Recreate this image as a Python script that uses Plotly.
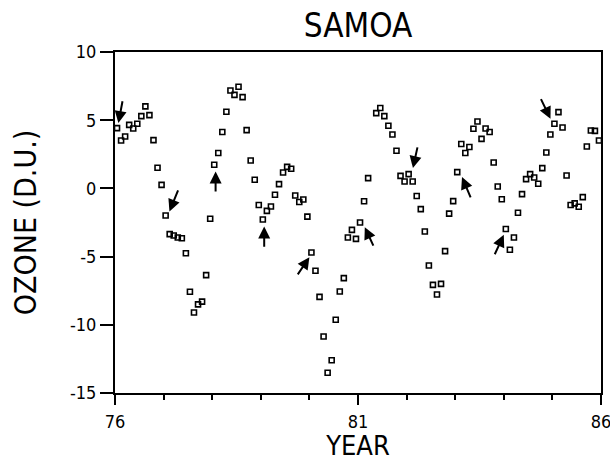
import plotly.graph_objects as go

# Monthly ozone deviations, Samoa, 1976-1985 (k = month index from Jan 1976)
start_year = 76
ozone = [
    4.42, 3.51, 3.81, 4.66, 4.39, 4.74, 5.30, 6.01, 5.37, 3.54, 1.51, 0.26,
    -1.99, -3.35, -3.45, -3.60, -3.65, -4.75, -7.58, -9.10, -8.50, -8.30, -6.36, -2.23,
    1.73, 2.59, 4.13, 5.62, 7.18, 6.86, 7.45, 6.69, 4.27, 2.05, 0.63, -1.22,
    -2.28, -1.65, -1.33, -0.47, 0.31, 1.17, 1.58, 1.44, -0.52, -1.00, -0.81, -2.07,
    -4.70, -6.04, -7.95, -10.86, -13.52, -12.60, -9.63, -7.56, -6.58, -3.60, -3.04, -3.70,
    -2.50, -0.94, 0.75, None, 5.52, 5.89, 5.30, 4.59, 3.95, 2.76, 0.92, 0.51,
    1.05, 0.51, -0.56, -1.52, -3.16, -5.65, -7.07, -7.78, -7.00, -4.60, -1.85, -0.93,
    1.19, 3.25, 2.59, 3.03, 4.37, 4.90, 3.63, 4.39, 4.13, 1.90, 0.14, -0.80,
    -2.98, -4.50, -3.60, -1.78, -0.42, 0.68, 1.05, 0.80, 0.34, 1.49, 2.63, 3.95,
    4.74, 5.59, 4.46, 0.95, -1.22, -1.10, -1.35, -0.64, 3.07, 4.24, 4.22, 3.51,
]
years = [start_year + (k + 0.5) / 12 for k in range(len(ozone))]

# Arrows: head (x, y) and tail (x, y) in data units
arrow_head_x = [76.07, 77.12, 78.07, 79.07, 80.00, 81.14, 82.13, 83.14, 84.00, 84.96]
arrow_head_y = [4.79, -1.69, 1.24, -2.79, -5.04, -2.84, 1.49, 0.83, -3.40, 5.10]
arrow_tail_x = [76.16, 77.31, 78.07, 79.07, 79.74, 81.33, 82.23, 83.33, 83.80, 84.75]
arrow_tail_y = [6.50, -0.03, -0.34, -4.38, -6.41, -4.30, 3.12, -0.76, -4.94, 6.66]

x_ticks = [76, 81, 86]
x_minor = list(range(76, 87))
y_ticks = [10, 5, 0, -5, -10, -15]

FONT = "DejaVu Sans Condensed, Liberation Sans Narrow, sans-serif"

fig = go.Figure()
fig.add_trace(go.Scatter(
    x=years, y=ozone, mode="markers",
    marker=dict(symbol="square-open", size=5, color="black", line=dict(width=1.6, color="black")),
    showlegend=False,
))

annotations = []
for hx, hy, tx, ty in zip(arrow_head_x, arrow_head_y, arrow_tail_x, arrow_tail_y):
    annotations.append(dict(
        x=hx, y=hy, ax=tx, ay=ty, xref="x", yref="y", axref="x", ayref="y",
        text="", showarrow=True, arrowhead=2, arrowsize=1.2, arrowwidth=2, arrowcolor="black",
    ))

fig.update_layout(
    width=610, height=461,
    margin=dict(l=115, r=9, t=52, b=68, autoexpand=False),
    paper_bgcolor="white", plot_bgcolor="white",
    font=dict(family=FONT, color="black"),
    title=dict(text="SAMOA", x=358 / 610, xanchor="center", y=1 - 25 / 461, yanchor="middle",
               font=dict(family=FONT, size=33, color="black")),
    annotations=annotations,
    xaxis=dict(
        range=[76, 86], tickvals=x_ticks, ticktext=[str(v) for v in x_ticks],
        ticks="outside", ticklen=10, tickwidth=1.5, tickcolor="black", ticklabelstandoff=1,
        ticklabeloverflow="allow",
        minor=dict(tickvals=x_minor, ticks="outside", ticklen=5, tickwidth=1.5, tickcolor="black"),
        showgrid=False, zeroline=False, showline=True, linewidth=2, linecolor="black", mirror=True,
        tickfont=dict(family=FONT, size=18, color="black"),
        title=dict(text="YEAR", standoff=9, font=dict(family=FONT, size=27, color="black")),
        automargin=False,
    ),
    yaxis=dict(
        range=[-15, 10], tickvals=y_ticks, ticktext=[str(v) for v in y_ticks],
        ticks="outside", ticklen=13, tickwidth=1.5, tickcolor="black",
        ticklabeloverflow="allow",
        showgrid=False, zeroline=False, showline=True, linewidth=2, linecolor="black", mirror=True,
        tickfont=dict(family=FONT, size=18, color="black"),
        title=dict(text="OZONE (D.U.)", standoff=24, font=dict(family=FONT, size=30, color="black")),
        automargin=False,
    ),
)

fig.write_html("out.html", config={"displayModeBar": False},
               post_script="document.body.style.margin='0';document.body.style.overflow='hidden';")
